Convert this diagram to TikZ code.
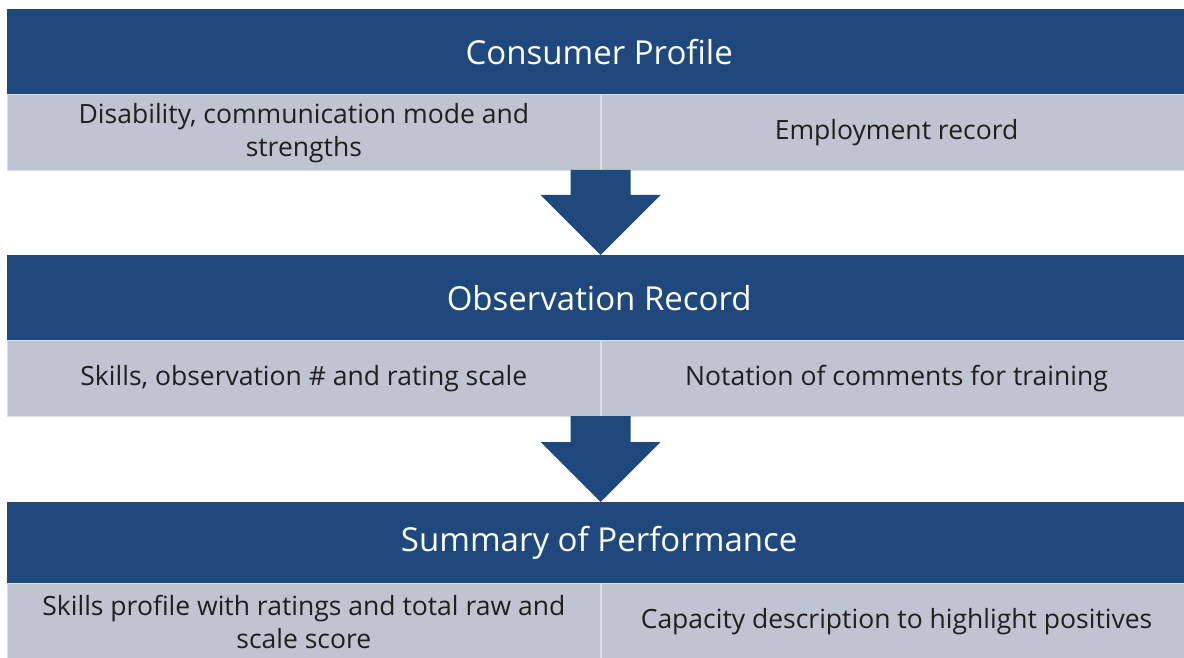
\documentclass[tikz,border=0pt]{standalone}
\usepackage{fontspec}
\setmainfont{Open Sans}
\usetikzlibrary{positioning}

\definecolor{hdrblue}{RGB}{31,73,125}
\definecolor{cellgray}{RGB}{190,196,208}

\tikzset{
  header/.style={fill=hdrblue,text=white,minimum width=1184pt,minimum height=85pt,
    inner sep=0pt,anchor=north west,font=\fontsize{33}{38}\selectfont},
  cell/.style={fill=cellgray,draw=cellgray!55!white,line width=0.7pt,minimum width=593pt,
    minimum height=76pt,inner sep=0pt,align=center,text=black!88,
    font=\fontsize{26.5}{33}\selectfont},
  lcell/.style={cell,anchor=north west},
  rcell/.style={cell,minimum width=591pt,anchor=north west},
  downarrow/.style={fill=hdrblue}
}

\begin{document}
\begin{tikzpicture}[x=1pt,y=-1pt]
  \useasboundingbox[fill=white] (0,0) rectangle (1184,658);

  %consumer profile
  \node[header] (cp) at (7,9) {Consumer Profile};
  \node[lcell] (cp-l) at (cp.south west) {Disability, communication mode and\\strengths};
  \node[rcell] (cp-r) at (cp-l.north east) {Employment record};

  %observation record
  \node[header] (or) at (7,255) {Observation Record};
  \node[lcell] (or-l) at (or.south west) {Skills, observation \# and rating scale};
  \node[rcell] (or-r) at (or-l.north east) {Notation of comments for training};

  %summary of performance
  \node[header,minimum height=81pt] (sp) at (7,502) {Summary of Performance};
  \node[lcell,minimum height=76pt] (sp-l) at (sp.south west) {Skills profile with ratings and total raw and\\scale score};
  \node[rcell,minimum height=76pt] (sp-r) at (sp-l.north east) {Capacity description to highlight positives};

  %arrows
  \coordinate (tip1) at (cp-l.south east |- or.north);
  \fill[downarrow] (tip1) -- +(-60,-60) -- +(-30,-60) -- +(-30,-85) -- +(30,-85)
    -- +(30,-60) -- +(60,-60) -- cycle;
  \coordinate (tip2) at (or-l.south east |- sp.north);
  \fill[downarrow] (tip2) -- +(-60,-60) -- +(-30,-60) -- +(-30,-86) -- +(30,-86)
    -- +(30,-60) -- +(60,-60) -- cycle;
\end{tikzpicture}
\end{document}
